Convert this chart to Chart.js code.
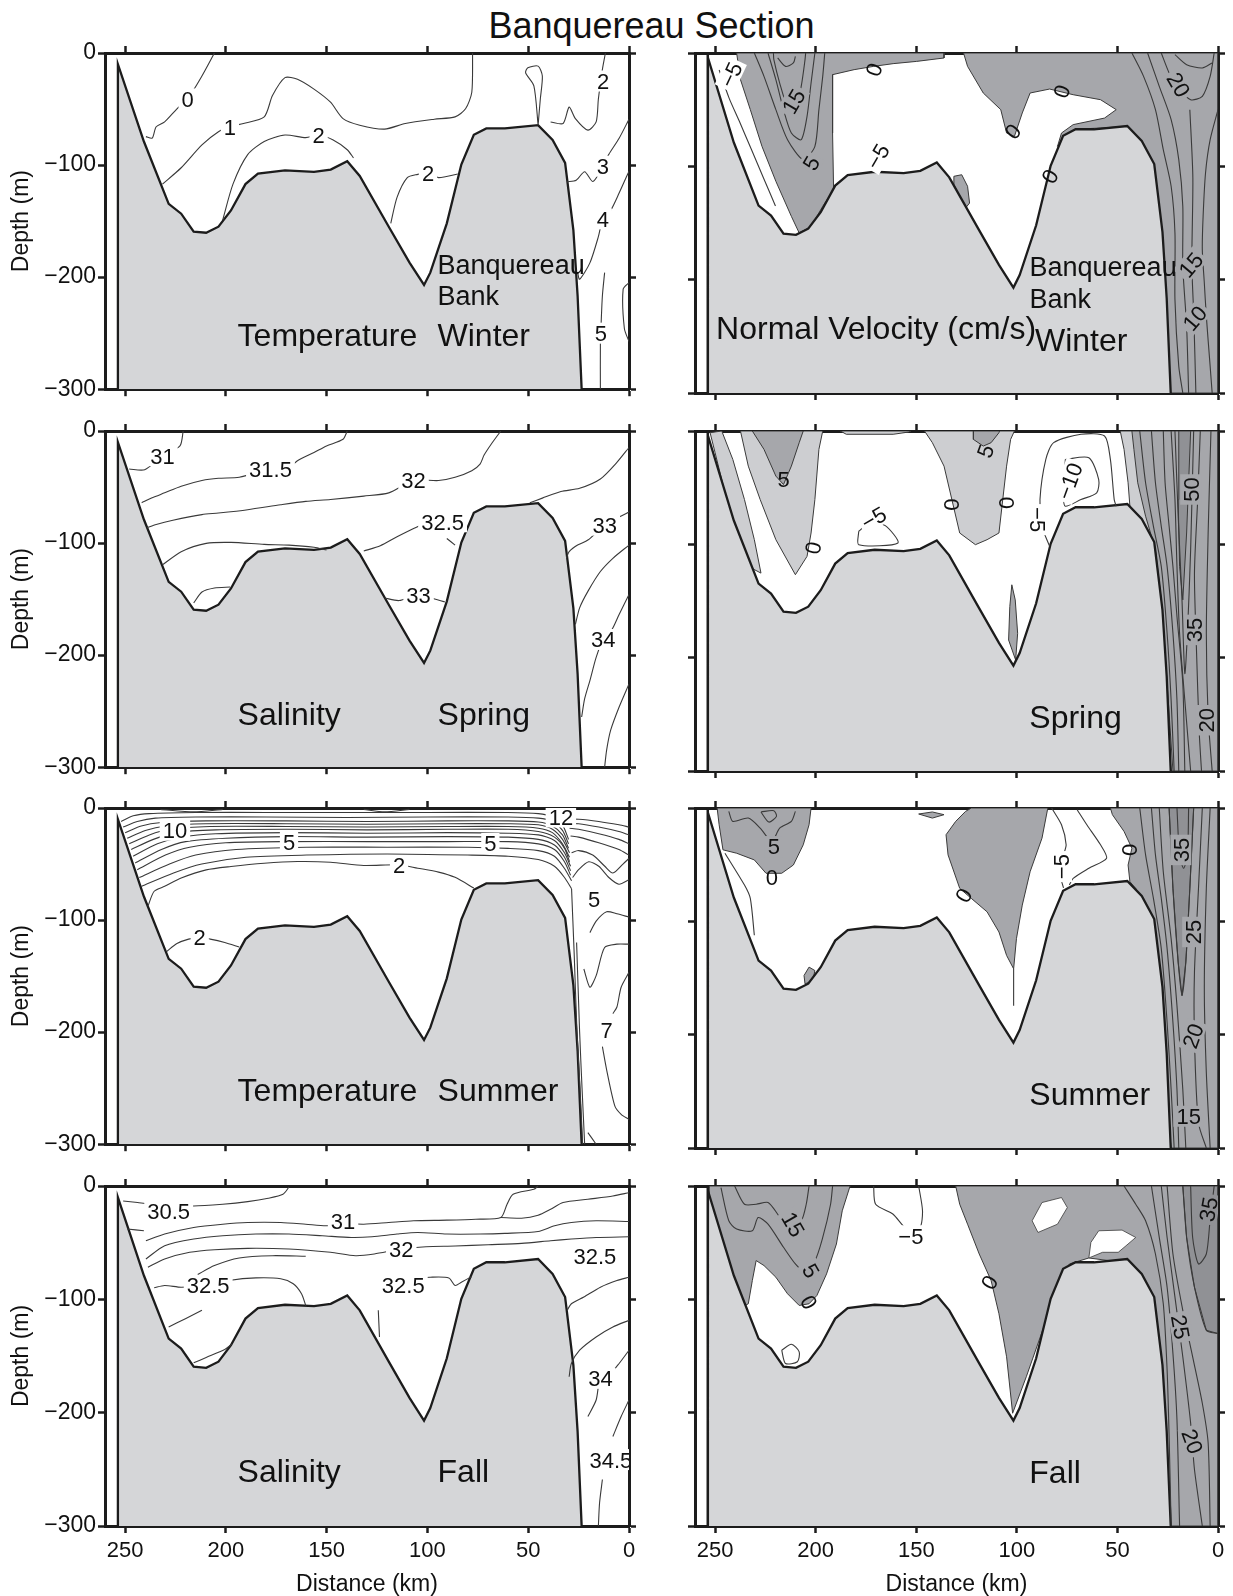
<!DOCTYPE html>
<html>
<head>
<meta charset="utf-8">
<script src="https://cdn.jsdelivr.net/npm/chart.js@4.4.1/dist/chart.umd.min.js"></script>
<style>
  html, body { margin: 0; padding: 0; background: #ffffff; }
  body { position: relative; width: 1233px; height: 1596px; overflow: hidden; font-family: "Liberation Sans", Arial, Helvetica, sans-serif; }
  canvas { position: absolute; }
  #mainTitle { position: absolute; left: 0; top: 8px; width: 1303px; text-align: center; font-size: 36px; line-height: 36px; color: #111; }
</style>
</head>
<body>
<div id="mainTitle">Banquereau Section</div>
<script>
// ---------------- tick labels ----------------
const xTickValues = [250, 200, 150, 100, 50, 0];
const yTickValues = [-300, -200, -100, 0];

// ---------------- bathymetry (distance km, depth m) ----------------
const bathyLeft = [[253.6,-300],[253.6,-10],[240.7,-79],[228.4,-134.6],[222.2,-143.4],[216,-159.5],[209.8,-160.4],[203.7,-155],[197.5,-140.5],[190.3,-117],[184.1,-107.7],[170.7,-104.8],[156.3,-106],[148,-104],[139.8,-96.6],[133.6,-109.7],[119.2,-155],[108.9,-187],[101.7,-207],[98.6,-196],[90.4,-152],[83.2,-99.5],[77,-73],[70.8,-67.3],[61.6,-67.3],[45.1,-64.4],[37.9,-77.6],[31.7,-98],[27.6,-158],[25.5,-216.6],[23.5,-300]];
const bathyRight = [[253.6,-300],[253.6,-4],[240.7,-79],[228.4,-134.6],[222.2,-143.4],[216,-159.5],[209.8,-160.4],[203.7,-155],[197.5,-140.5],[190.3,-117],[184.1,-107.7],[170.7,-104.8],[156.3,-106],[148,-104],[139.8,-96.6],[133.6,-109.7],[119.2,-155],[108.9,-187],[101.7,-207],[98.6,-196],[90.4,-152],[83.2,-99.5],[77,-73],[70.8,-67.3],[61.6,-67.3],[45.1,-64.4],[37.9,-77.6],[31.7,-98],[27.6,-158],[25.5,-216.6],[23.5,-300]];
const shelfLineRight = [[253.6,-300],[253.6,0]];

// ---------------- Temperature, winter ----------------
const twC0 = [[205.7,0],[211.9,-20.5],[219,-41],[224.3,-49.8],[230.4,-61.5],[234.6,-65.8],[236.6,-76],[239.7,-74.6]];
const twC1 = [[231.5,-117],[222.2,-102.4],[211.9,-82],[203.7,-70.2],[197.9,-65.8],[191.3,-62.9],[181,-57],[176.9,-38],[170.7,-22],[164.5,-23.4],[156.3,-32.2],[148.1,-43.9],[141.9,-58.5],[133.6,-64.4],[121.3,-67.9],[111,-62.9],[96.6,-59.1],[86.3,-57],[81.1,-49.8],[78,-35],[77.6,0]];
const twC2a = [[201.6,-149],[196.5,-117],[189.2,-90.7],[181,-79],[170.7,-73.2],[160.4,-75.5],[153.8,-73.2],[147,-77.5],[139.8,-86.3],[136.7,-93.6]];
const twC2b = [[118.2,-152],[115.1,-128.8],[110,-111.2],[104.8,-108.3],[99.7,-106.8],[94.5,-111.2],[85,-108]];
const twLoop = [[45.1,-64.4],[47.2,-29.3],[51.3,-17.6],[50.2,-13.2],[45.1,-11.7],[43,-20.5],[44,-41],[45.1,-64.4]];
const twC2c = [[38.9,-61.5],[32.7,-62.9],[29.7,-48.3],[26.6,-58.5],[20.4,-68.8],[16.3,-61.5],[15.2,-41],[13.2,-14.6],[11.7,0]];
const twC3 = [[30.8,-115],[26.2,-113.5],[22,-105.9],[17.9,-114.7],[13,-101],[10.1,-90.7],[4.9,-76.1],[0,-59.1]];
const twC4 = [[0,-105.4],[4.9,-125],[9.1,-140.5],[13,-148],[15.2,-163.9],[19.4,-187.3],[24.5,-201.9],[25.5,-196]];
const twCx = [[0,-204.9],[2.9,-210.7],[2.3,-245.8],[0,-257.5]];
const twC5 = [[12.1,-196],[13.2,-216.6],[13.8,-240],[14.2,-260.5],[14.2,-300]];
const twLabels = [["0",219,-41],["1",198,-66],["2",154,-73],["2",99.7,-107],["2",12.8,-25],["3",13,-101],["4",13,-148],["5",14,-250]];
const twTexts = [["Banquereau",95,-188.5,27],["Bank",95,-216,27],["Temperature",194.2,-251.5,32],["Winter",95,-251.5,32]];

// ---------------- Salinity, spring ----------------
const ss31 = [[221.2,0],[222.8,-13.3],[231.5,-22],[240.3,-34.5],[248,-33.9]];
const ss315 = [[139.8,0],[141.9,-7.4],[150.1,-13.3],[156.3,-19.2],[164.5,-26.5],[167.6,-31],[177.9,-34],[193.4,-41.3],[203.7,-42.2],[211.9,-44.2],[222.2,-49.3],[230.4,-55.2],[236.6,-59.6],[241.8,-64]];
const ss32 = [[63.6,0],[67.8,-10.3],[71.9,-21.5],[73.9,-29.5],[78,-35.4],[86.3,-41.3],[94.5,-44.2],[106.9,-44.2],[119.2,-55.2],[131.6,-58.1],[148.1,-61.1],[160.4,-62.8],[172.8,-65.8],[189.2,-70.2],[203.7,-73.2],[211.9,-74.6],[226.3,-79.6],[234.6,-83.4],[239.1,-86.4]];
const ssShelf = [[0,-14.7],[6,-28],[14.2,-42.8],[24.5,-51.1],[33.8,-54],[43,-59.9],[49.2,-64]];
const ss325a = [[231.5,-119.5],[222.2,-107.7],[209.8,-100.3],[197.5,-99.4],[181,-101.2],[168.7,-101.8],[156.3,-103.8],[150.1,-106.2]];
const ss325b = [[131.6,-107.1],[123.4,-102.4],[115.1,-94.4],[104,-84.5]];
const ss325c = [[90.4,-95.9],[86.3,-101.8]];
const ss33a = [[216,-153.4],[211.9,-143.7],[205.7,-140.1],[197.9,-139.2]];
const ss33b = [[121.3,-149],[114.1,-151.3],[104.4,-146],[95.5,-150.4],[91.4,-152.5]];
const ss33r = [[0,-72.3],[4.9,-76.7],[12,-84],[20.4,-97.3],[25.5,-101.8],[29.7,-107.7],[31.1,-113.6]];
const ssMid = [[0,-101.8],[8,-113.6],[14.2,-125.4],[20.4,-143.1],[24.5,-157.8],[26.6,-172.6]];
const ss34 = [[0,-146],[4.9,-163.7],[8.4,-177],[12.8,-185.8],[16.3,-202],[19.4,-222.7],[22,-238.9],[23.5,-255.2]];
const ssDeep = [[0,-225.7],[4.9,-246.3],[9.1,-267],[11.1,-284.7],[12.1,-300]];
const ssLabels = [["31",231.5,-22],["31.5",177.9,-34],["32",106.9,-44],["32.5",92.5,-81],["33",104.4,-146],["33",12,-84],["34",12.8,-186]];
const ssTexts = [["Salinity",194.2,-252,32],["Spring",95,-252,32]];

// ---------------- Temperature, summer ----------------
const tsTop1 = [[232.5,-1.2],[216,-3.5],[201.6,-1.2]];
const tsTop2 = [[131.6,-1.2],[121.3,-3.5],[108.9,-1.2]];
const tsL1 = [[252,-12],[246,-7],[238,-5],[215,-4],[180,-4],[140,-4],[100,-4],[60,-4],[45,-5],[38,-8],[33,-15],[30,-28]];
const tsL2 = [[251,-17],[244,-12],[235,-9],[215,-8],[180,-8],[140,-8.5],[100,-8],[60,-8],[45,-9],[38,-12],[33,-20],[30,-32]];
const tsL3 = [[250,-22],[242,-16],[232,-13],[210,-11.5],[170,-11.5],[130,-12],[90,-11.5],[60,-11.5],[45,-12.5],[38,-16],[33,-24],[30,-36]];
const tsL4 = [[249,-27],[240,-20],[230,-16],[210,-14],[170,-14],[130,-14.5],[90,-14],[60,-14],[45,-15],[38,-19],[33,-28],[29.5,-40]];
const tsL5 = [[248,-32],[238,-24],[228,-19],[208,-16.5],[170,-16.5],[130,-17],[90,-16.5],[60,-16.5],[45,-18],[38,-22],[33,-32],[29.5,-44]];
const tsL6 = [[247,-37],[236,-28],[225,-22],[205,-19.5],[170,-19],[130,-19.5],[90,-19],[60,-19],[45,-21],[37,-26],[32,-36],[29.5,-48]];
const tsL7 = [[246,-43],[234,-32],[222,-26],[205,-23],[170,-22],[130,-22.5],[90,-22],[60,-22.5],[45,-24],[37,-29],[32,-40],[29,-52]];
const tsL8 = [[245,-49],[232,-37],[220,-30],[200,-27],[170,-25.5],[130,-26],[90,-25.5],[60,-26],[45,-28],[37,-33],[32,-44],[29,-56]];
const tsL9 = [[244,-55],[230,-42],[218,-35],[200,-31],[170,-30],[130,-30],[90,-30],[60,-30],[45,-32],[37,-37],[32,-48],[29,-60]];
const tsL10 = [[243,-62],[228,-50],[215,-42],[195,-37],[160,-35],[120,-35],[80,-35],[60,-36],[45,-38],[37,-43],[32,-54],[28.5,-65]];
const tsL11 = [[242,-70],[226,-58],[212,-50],[190,-44],[160,-42],[120,-41],[80,-42],[60,-43],[45,-46],[37,-52],[32,-62],[28.5,-72]];
const ts2 = [[238.7,-87.6],[235.6,-74.3],[230.4,-69.9],[222.2,-62.5],[209.8,-55.2],[197.5,-52.2],[181,-49.3],[164.5,-47.8],[148.1,-48.4],[131.6,-51.3],[114.1,-50.7],[104.8,-53.7],[94.5,-57.2],[86.3,-61.9],[77,-71.4]];
const tsLens = [[229.4,-128],[224.3,-121],[218.5,-117],[213,-115.6],[207.8,-117],[200.6,-120],[193.4,-124]];
const tsRA = [[31,-10],[25,-10],[15,-12],[5,-15],[0,-17]];
const tsRB = [[30,-14],[25,-14],[15,-17],[5,-21],[0,-24]];
const tsRC = [[29.5,-18],[25,-19],[15,-23],[5,-28],[0,-32]];
const tsRD = [[29,-25],[25,-26],[15,-31],[5,-37],[0,-42]];
const tsRE = [[28.5,-40],[25,-38],[18,-42],[12,-52],[8,-58],[3,-50],[0,-45]];
const tsRF = [[28,-62],[25,-55],[20,-48],[15,-52],[10,-62],[5,-68],[0,-64]];
const tsR5 = [[19.4,-111.2],[16.3,-100.9],[11.1,-92.6],[6,-94.4],[0,-97.3]];
const tsR6 = [[22.4,-143.7],[19.4,-159.9],[16.3,-149.6],[12.1,-124.5],[6,-121.5],[0,-121.5]];
const tsR6b = [[0,-146.6],[3.9,-159.9],[6,-177.6],[8,-183.5]];
const tsR7 = [[13.2,-213],[11.1,-233.6],[7,-266],[3.9,-273.3],[0,-277.9]];
const tsRb = [[20.4,-289.7],[16.3,-300]];
const tsRS1 = [[28.5,-72],[27.2,-130],[25.8,-200],[24.3,-250],[23,-300]];
const tsRS2 = [[26,-120],[24.5,-200],[23.3,-250],[22,-300]];
const tsLabels = [["10",225.3,-19.8],["5",168.7,-30],["5",68.8,-31.6],["2",114.1,-51.3],["12",33.8,-8],["5",17.3,-81.7],["7",11.1,-198.2],["2",213,-115.6]];
const tsTexts = [["Temperature",194.2,-251,32],["Summer",95,-251,32]];

// ---------------- Salinity, fall ----------------
const sf305 = [[251,-13.2],[243.8,-14.6],[236,-16],[216,-17.6],[201.6,-16.1],[189.2,-13.8],[179,-10.8],[171.7,-7.3],[168.7,-0.9]];
const sfShort = [[249,-38],[240.7,-39.5]];
const sf31a = [[239.7,-48.3],[230.4,-42.4],[216,-36.6],[201.6,-33.7],[189.2,-32.2],[172.8,-32.2],[160.4,-33.7],[150.1,-35.1],[141.9,-33],[131.6,-33.7],[119.2,-32.2],[106.9,-30.7],[90.4,-30.1],[76,-29.3],[63.6,-27.8],[60.5,-16.1],[57.5,-7.3],[47.2,-2.9],[45.1,0]];
const sf31b = [[63.6,-27.8],[53.3,-28.4],[45.1,-25.8],[38.9,-20.5],[32.7,-14.6],[20.4,-11.7],[8,-8.8],[0,-5.9]];
const sf315 = [[239.7,-64.4],[230.4,-52.7],[216,-46.8],[201.6,-43.9],[185.1,-42.4],[168.7,-42.4],[152.2,-43.9],[137.8,-45.4],[127.5,-44.8],[115.1,-42.4],[104.8,-41],[90.4,-42.4],[73.9,-42.4],[61.6,-41.8],[45.1,-40.1],[36.9,-35.1],[28.6,-32.2],[16.3,-30.7],[0,-31.3]];
const sf32 = [[238.7,-71.7],[230.4,-64.4],[218,-58.5],[205.7,-56.2],[189.2,-55],[168.7,-55.6],[148.1,-58.5],[135.7,-61.5],[126.4,-60],[113,-55.6],[100.7,-53.6],[86.3,-53],[69.8,-51.8],[53.3,-50.6],[38.9,-48.3],[28.6,-46.8],[16.3,-45.4],[0,-44.8]];
const sf32x = [[214,-78.1],[205.7,-70.2],[193.4,-63.5],[176.9,-61.5],[160.4,-62]];
const sf325a = [[235.6,-89.8],[230.4,-87.8],[222.2,-89.3],[208.8,-87.8],[198.5,-83.4],[185.1,-81.1],[172.8,-81.9],[166.6,-86.3],[162.5,-95.1],[160.4,-105.4]];
const sfLow = [[228.4,-124.4],[220.1,-117.1],[211.9,-109.7]];
const sfTrough = [[216,-156],[209.8,-151.3],[200.6,-144.3],[197.1,-139.6]];
const sf325m = [[124.4,-109.7],[123.8,-133.2]];
const sf325n = [[108.9,-81.9],[98.6,-80.5],[89.4,-81.1],[86.3,-87.8],[83.2,-84.9],[78,-79.9]];
const sf325r = [[0,-80.5],[6,-83.4],[14.2,-89.3],[22.4,-98],[28.6,-103.9],[30.7,-109.7]];
const sf33 = [[0,-118.5],[8,-124.4],[16.3,-133.2],[24.5,-144.9],[28.6,-156.6],[29.7,-168.3]];
const sf34 = [[0,-144.9],[4.9,-156.6],[9,-165],[14.2,-169.7],[16.3,-188.8],[20.4,-203.4]];
const sf34b = [[0,-188.8],[3.9,-203.4],[8,-221]];
const sf345 = [[13.2,-259],[14.6,-279.5],[15.2,-300]];
const sfLabels = [["30.5",228.4,-21.9],["31",141.9,-30.7],["32",113,-55.6],["32.5",208.8,-87.8],["32.5",112,-87.8],["32.5",16.9,-61.5],["34",14.2,-169.7],["34.5",9,-241.4]];
const sfTexts = [["Salinity",194.2,-251,32],["Fall",95,-251,32]];

// ---------------- Normal velocity, winter ----------------
const vwRegA = [[239.3,0],[136.2,0],[136.2,-4.4],[149.8,-7.4],[161.5,-9.4],[171.2,-11.8],[180.9,-14.7],[191.6,-19.1],[191.6,-70.6],[191.1,-120.6],[196.5,-135.3],[202.3,-152.9],[208.2,-158.8],[212.1,-144.1],[219.8,-113.2],[226.7,-82.4],[232.5,-50],[237.4,-23.5]];
const vwRegB = [[126.5,0],[0,0],[0,-300],[24.3,-300],[26.3,-217.6],[28.2,-158.8],[32.1,-98.5],[37.9,-77.9],[44.7,-64.7],[58.4,-66.2],[69.1,-67.1],[75.9,-73.5],[79.8,-82.4],[77.8,-70.6],[72,-63.2],[56.4,-57.4],[50.6,-50],[58.4,-41.2],[72,-36.8],[83.7,-31.8],[93.4,-35.3],[97.3,-52.9],[101.2,-73.5],[105.1,-70.6],[108,-50],[116.7,-35.3],[124.5,-11.8]];
const vwBlob = [[131.3,-108.8],[127.4,-107.4],[124.5,-117.6],[123.5,-132.4],[125.5,-136.8],[128.4,-126.5],[131.3,-116.2]];
const vw5 = [[230.5,0],[225.7,-20.6],[219.8,-50],[214,-76.5],[206.2,-94.1],[200.4,-82.4],[198.4,-50],[196.5,-20.6],[195.5,0]];
const vw10 = [[223.7,0],[219.8,-23.5],[216,-50],[212.1,-70.6],[207.2,-76.5],[204.3,-55.9],[202.3,-26.5],[200.4,0]];
const vw15 = [[221,0],[220.8,-5.9],[217.9,-26.5],[214,-47.1],[210.1,-50],[207.2,-29.4],[205.3,-5.9],[205,0]];
const vw20 = [[218.9,-4.4],[215,-11.8],[211.1,-8.8],[210.1,-2.9]];
const vwM5 = [[248,-15],[243,-40],[238,-60],[232,-85],[226,-110],[220,-135]];
const vwJ2 = [[42.8,0],[37,-20.6],[31.1,-50],[27.2,-85.3],[23.3,-117.6],[21.4,-158.8],[21.4,-217.6],[19.5,-276.5],[17.5,-300]];
const vwJ3 = [[35,0],[29.2,-29.4],[23.3,-58.8],[19.5,-94.1],[17.5,-135.3],[17.5,-188.2],[15.6,-241.2],[14.6,-300]];
const vwJ4 = [[28.2,0],[24.3,-17.6],[20.4,-29.4],[13.6,-41.2],[7.8,-38.2],[3.9,-20.6],[1.9,0]];
const vwJ5 = [[21.4,-1.5],[15.6,-10.3],[7.8,-13.2],[2.9,-8.8]];
const vwJ6 = [[0,-50],[3.9,-76.5],[6.2,-105.9],[7.4,-144.1],[7.8,-173.5],[6.8,-202.9],[5.8,-232.4],[3.9,-276.5],[2.9,-300]];
const vwJ7 = [[14,-50],[12.5,-110],[13,-186],[12,-234],[11,-300]];
const vwLabels = [["\u22125",242.2,-19.1,-65,"#fff"],["15",211.1,-42.6,-60,"dark"],["5",202.3,-97,-60,"dark"],["0",171.2,-14.7,-70,null],["0",77.8,-33.8,-70,null],["0",102.1,-69,-50,null],["0",83.7,-108.8,-60,null],["\u22125",169.3,-91.2,-60,"#fff"],["20",19.5,-27.9,60,"dark"],["15",13.6,-186.8,-50,"dark"],["10",11.7,-233.8,-50,"dark"]];
const vwTexts = [["Normal Velocity (cm/s)",249.5,-242,32],["Winter",91,-253,32],["Banquereau",93.7,-188.5,27],["Bank",93.7,-216,27]];

// ---------------- Normal velocity, spring ----------------
const vsSlope = [[252.5,-1.5],[246.7,0],[241.2,-25.1],[235.4,-60.5],[230.5,-95.9],[227.2,-125.4],[233.5,-119.5],[239.3,-90],[245.1,-54.6],[250,-19.2]];
const vsLeft0 = [[237.4,0],[233.5,-31],[227.6,-60.5],[219.8,-95.9],[210.1,-126.8],[204.3,-110.6],[202.3,-90],[200.4,-60.5],[198.4,-16.2],[196.5,0]];
const vsLeft5 = [[231.5,0],[225.7,-16.2],[219.8,-39.8],[216,-47.2],[212.1,-31],[208.2,-10.3],[206.2,0]];
const vsTopThin = [[187.7,0],[184.8,-2.9],[161.5,-2.9],[153.7,-0.9],[152.7,0]];
const vsMid0 = [[145.9,0],[142,-10.3],[136.2,-31],[132.3,-60.5],[128.4,-90],[120.6,-100.3],[114.8,-95.9],[108.9,-90],[107,-60.5],[105.1,-31],[103.1,-7.4],[101.2,0]];
const vsMid5 = [[121.6,0],[121.6,-7.4],[116.7,-13.3],[112.8,-10.3],[108.9,-1.5],[108.6,0]];
const vsSliver = [[102.5,-135.7],[100.8,-149],[99.6,-178.5],[100.6,-202.1],[104.1,-184.4],[103.5,-154.9]];
const vsJetLight = [[48.6,0],[0,0],[0,-300],[23.3,-300],[26.3,-237.5],[29.2,-178.5],[32.1,-119.5],[34.6,-98.8],[38.9,-78.2],[43.8,-66.4],[44.7,-45.7],[46.7,-16.2]];
const vsJetDark = [[42.8,0],[0,0],[0,-300],[22.4,-300],[25.3,-222.7],[28.2,-149],[31.1,-104.7],[36,-75.2],[39.9,-45.7],[41.8,-16.2]];
const vsJetCore = [[19.5,0],[13.6,0],[15.6,-90],[17.5,-149],[19.1,-119.5],[19.8,-60.5]];
const vsS1 = [[38.9,0],[36,-45.7],[32.1,-84.1],[28.2,-119.5],[25.3,-178.5],[23.3,-237.5],[21.8,-300]];
const vsS2 = [[33.1,0],[31.1,-45.7],[28.2,-84.1],[25.3,-119.5],[22.4,-178.5],[20.4,-237.5],[19.5,-300]];
const vsS3 = [[27.2,0],[26.3,-45.7],[24.3,-84.1],[22.4,-119.5],[20.4,-163.7],[17.5,-222.7],[16.5,-300]];
const vsS4 = [[23.3,0],[21.4,-60.5],[20.4,-119.5],[19.1,-178.5],[16.5,-237.5],[13.6,-300]];
const vsS5 = [[21.4,0],[19.8,-75.2],[17.9,-149],[16.5,-213.9],[15.2,-178.5],[13.6,-104.7],[12.1,0]];
const vsS6 = [[8.8,0],[10.1,-60.5],[11.7,-125.4],[10.7,-193.2],[9.3,-267],[8.2,-300]];
const vsS7 = [[3.5,0],[4.9,-90],[5.8,-178.5],[4.9,-252.2],[2.9,-300]];
const vsLens = [[178.6,-88.5],[173.2,-81.1],[165.4,-83.5],[159.1,-98.8],[178.6,-100.3],[178.6,-88.5]];
const vsM5 = [[83.7,-101.8],[87.5,-84.1],[88.5,-60.5],[85.6,-25.1],[81.7,-10.3],[68.1,-2.9],[56.4,-4.4],[53.5,-25.1],[51.6,-60.5],[50.6,-66.4]];
const vsM10 = [[75.9,-25.1],[64.2,-23.6],[59.3,-42.8],[60.3,-54.6],[68.1,-60.5],[75.9,-66.4],[76.8,-57.5],[75.9,-25.1]];
const vsLabels = [["5",216,-42.8,0,null],["0",201.4,-103.2,-80,null],["\u22125",171.2,-76.7,-30,"#fff"],["0",132.3,-64.9,90,null],["0",105.1,-63.4,90,null],["5",115.8,-17.7,-70,null],["\u22125",89.5,-78.2,90,"#fff"],["\u221210",73.9,-44.2,-70,"#fff"],["50",13.6,-51.6,-90,"dark"],["35",11.7,-175.5,-90,"dark"],["20",5.8,-255.2,-90,"dark"]];
const vsTexts = [["Spring",93.8,-252,32]];

// ---------------- Normal velocity, summer ----------------
const vuLeft = [[249,0],[202.3,0],[203.3,-14.8],[206.2,-32.5],[211.1,-50.3],[216.9,-57.6],[224.7,-57.6],[230.5,-45.8],[239.3,-39.9],[246.1,-36.9],[248,-14.8]];
const vuBlob = [[205.8,-147.8],[203.3,-140.4],[200.4,-143.4],[201.4,-152.2],[205.3,-155.2]];
const vuMid = [[122.6,0],[84.6,0],[87.5,-26.6],[93.4,-56.2],[97.3,-85.7],[100.2,-115.3],[101.6,-141.9],[105.1,-130.1],[108.9,-109.4],[114.8,-91.6],[122.6,-79.8],[128.4,-70.9],[134.2,-41.4],[135.2,-23.6],[130.4,-11.8],[125.5,-3]];
const vuTopBlob = [[148.8,-5.3],[142,-3.5],[136.2,-5.9],[142,-8.9]];
const vuJet = [[53.5,0],[0,0],[0,-300],[23.3,-300],[26.3,-248.3],[29.2,-189.2],[32.1,-130.1],[36,-91.6],[40.9,-70.9],[43.8,-65],[44.7,-50.3],[42.8,-35.5],[46.7,-20.7],[52.5,-5.9]];
const vuJetCore = [[24.3,0],[12.1,0],[14,-70.9],[16,-136],[17.9,-165.5],[19.8,-136],[22.4,-70.9]];
const vu5 = [[243.2,-3],[241.2,-11.8],[233.5,-8.9],[227.6,-17.7],[221.8,-29.6],[217.9,-17.7],[212.1,-11.8],[210.1,-3]];
const vu5loop = [[227.2,-3.5],[223.3,-12.4],[219.5,-7.4],[220.8,-2.4],[227.2,-3.5]];
const vuSlope = [[245.1,-39.9],[235.4,-68],[232.5,-79.8],[230.5,-112.3]];
const vuVert = [[101.6,-141.9],[101.6,-174.4]];
const vuM5a = [[82.7,0],[77.8,-14.8],[75.5,-32.5],[76.8,-41.4]];
const vuM5b = [[78.2,-62.1],[76.8,-70.4]];
const vuLoop2 = [[70,-1.5],[65.2,-14.8],[58.4,-32.5],[55.4,-44.3],[64.2,-53.2],[72,-62.1],[73.9,-68]];
const vuT1 = [[38.9,0],[36,-41.4],[32.1,-79.8],[28.2,-124.1],[25.3,-189.2],[23.3,-248.3],[21.8,-300]];
const vuT2 = [[33.1,0],[31.1,-41.4],[28.2,-79.8],[25.3,-124.1],[22.4,-189.2],[20.4,-248.3],[19.5,-300]];
const vuT3 = [[29.2,0],[27.2,-56.2],[23.3,-115.3],[20.4,-174.4],[17.5,-248.3],[16,-300]];
const vuT4 = [[24.3,0],[22.4,-70.9],[19.8,-136],[17.9,-165.5],[16,-136],[14,-70.9],[12.1,0]];
const vuT4b = [[20.4,0],[19.1,-41.4],[17.1,-53.2],[15.2,-41.4],[14.6,0]];
const vuT5 = [[7.8,0],[9.7,-70.9],[11.7,-144.8],[11.7,-204],[9.7,-277.9],[5.8,-300]];
const vuT6 = [[3.9,0],[5.8,-70.9],[6.8,-159.6],[5.8,-233.5],[3.9,-300]];
const vuLabels = [["5",220.8,-34,0,"dark"],["0",221.8,-60.6,0,null],["\u22125",77.8,-51.7,-90,"#fff"],["0",43.8,-37,90,null],["0",126.5,-76.9,-60,null],["35",18.5,-37,-90,"dark"],["25",12.6,-109.4,-90,"dark"],["20",12.6,-201,-70,"dark"],["15",14.6,-272,0,"dark"]];
const vuTexts = [["Summer",93.8,-252,32]];

// ---------------- Normal velocity, fall ----------------
const vfLeft = [[252.9,0],[182.9,0],[186.8,-21.9],[189.7,-51.2],[194.6,-77.6],[199.4,-96.6],[203.3,-103.9],[208.2,-105.4],[214,-95.1],[219.8,-80.5],[225.7,-70.2],[229.6,-65.8],[231.5,-83.4],[233.5,-103.9],[239.3,-109.7],[252.9,-45.4]];
const vfRight = [[130.4,0],[0,0],[0,-300],[23.3,-300],[26.3,-250.2],[28.2,-191.7],[31.1,-133.2],[35,-103.9],[39.9,-80.5],[43.8,-67.3],[54.5,-65.8],[64.2,-63.5],[73.9,-68.8],[83.7,-109.7],[95.3,-168.3],[102.1,-200.5],[105.1,-150.7],[108.9,-112.7],[112.8,-83.4],[118.7,-60],[124.5,-33.7],[128.4,-16.1]];
const vfWhiteA = [[92.4,-30.7],[87.5,-14.6],[77.8,-10.2],[74.9,-19],[79.8,-33.7],[89.5,-41]];
const vfWhiteB = [[63.2,-49.8],[59.3,-39.5],[47.7,-38.9],[40.9,-45.4],[45.7,-52.7],[49.6,-58.5],[57.4,-58.5],[64.2,-63.5]];
const vfCore = [[17.5,0],[0,0],[0,-130.2],[5.8,-127.3],[11.7,-89.3],[15.6,-45.4]];
const vf5 = [[247.1,-1.5],[243.2,-30.7],[239.3,-38],[231.5,-39.5],[228.6,-27.8],[223.7,-33.7],[216,-54.1],[210.1,-68.8],[206.2,-74.6],[200.4,-65.8],[196.5,-45.4],[192.6,-16.1],[191.6,0]];
const vf15 = [[240.3,0],[235.4,-16.1],[229.6,-16.1],[223.7,-14.6],[218.9,-24.9],[214,-38],[207.2,-30.7],[204.7,-16.1],[203.3,0]];
const vfM5 = [[171.2,0],[170.2,-16.1],[161.5,-24.9],[154.7,-38],[148.2,-36.6],[146.9,-21.9],[148.8,0]];
const vfLens = [[216.9,-144.9],[212.1,-139.6],[208.2,-146.3],[209.1,-155.1],[215,-156.6],[216.9,-144.9]];
const vfF1 = [[46.7,0],[40.9,-16.1],[36,-30.7],[31.1,-60],[27.2,-103.9],[25.3,-162.4],[24.3,-221],[23.3,-300]];
const vfF2 = [[33.1,0],[29.2,-45.4],[25.3,-89.3],[22.4,-147.8],[20.4,-206.3],[19.1,-300]];
const vfF3 = [[28.2,0],[25.3,-45.4],[21.4,-98],[17.5,-150.7],[13.6,-209.2],[11.7,-250.2],[7.8,-300]];
const vfF4 = [[25.3,0],[22.4,-60],[17.5,-109.7],[12.6,-150.7],[7.8,-191.7],[4.9,-226.8],[3.9,-300]];
const vfF5 = [[17.5,0],[15.6,-45.4],[11.7,-89.3],[5.8,-127.3],[0,-130.2]];
const vfF6 = [[13.6,0],[12.6,-45.4],[9.7,-68.8],[5.8,-60],[3.9,-29.3],[1.9,0]];
const vfLabels = [["15",211.1,-33.7,60,"dark"],["5",202.3,-74.6,60,"dark"],["0",203.3,-102.4,60,null],["\u22125",152.7,-43.9,0,"#fff"],["0",113.8,-84.9,-60,null],["25",18.5,-124.4,80,"dark"],["20",12.6,-225.3,70,"dark"],["35",4.9,-20.5,-80,"darker"]];
const vfTexts = [["Fall",93.8,-252,32]];

// ---------------- layout / style ----------------
const FONT = '"Liberation Sans", Arial, Helvetica, sans-serif';
const ROW_TOP = [53, 431, 808, 1186];
const PANEL_H = 340;
const COL = { bathy: '#d5d6d8', light: '#cdced1', dark: '#a6a7ab', darker: '#909195', white: '#ffffff', line: '#3a3a3a', frame: '#1c1c1c', text: '#111111' };
const LABEL_SIZE = 22;
Chart.defaults.font.family = FONT;

function toPts(a) { return a.map(p => ({ x: p[0], y: p[1] })); }

function makeTextPlugin(cfg) {
  return {
    id: 'panelText',
    afterDatasetsDraw(chart) {
      const ctx = chart.ctx, xs = chart.scales.x, ys = chart.scales.y, a = chart.chartArea;
      ctx.save();
      ctx.beginPath();
      ctx.rect(a.left, a.top, a.right - a.left, a.bottom - a.top);
      ctx.clip();
      (cfg.labels || []).forEach(l => {
        const t = l[0], px = xs.getPixelForValue(l[1]), py = ys.getPixelForValue(l[2]);
        const rot = l[3] || 0;
        let bg = cfg.boxed ? COL.white : l[4];
        if (bg === 'dark') bg = COL.dark;
        if (bg === 'darker') bg = COL.darker;
        ctx.save();
        ctx.translate(px, py);
        ctx.rotate(rot * Math.PI / 180);
        ctx.font = LABEL_SIZE + 'px ' + FONT;
        const w = ctx.measureText(t).width;
        if (bg) { ctx.fillStyle = bg; ctx.fillRect(-w / 2 - 3, -10.5, w + 6, 21); }
        ctx.fillStyle = COL.text;
        ctx.textAlign = 'center';
        ctx.textBaseline = 'alphabetic';
        ctx.fillText(t, 0, 0.36 * LABEL_SIZE);
        ctx.restore();
      });
      (cfg.texts || []).forEach(s => {
        const px = xs.getPixelForValue(s[1]), py = ys.getPixelForValue(s[2]);
        ctx.font = s[3] + 'px ' + FONT;
        ctx.fillStyle = COL.text;
        ctx.textAlign = 'left';
        ctx.textBaseline = 'alphabetic';
        ctx.fillText(s[0], px, py + 0.36 * s[3]);
      });
      ctx.restore();
    }
  };
}

function buildPanel(p) {
  const L = p.col === 0;
  const left = L ? 0 : 660, width = L ? 650 : 573;
  const topH = 20, bottomH = p.row === 3 ? 70 : 12;
  const height = topH + PANEL_H + bottomH;
  const canvas = document.createElement('canvas');
  canvas.width = width; canvas.height = height;
  canvas.style.left = left + 'px'; canvas.style.top = (ROW_TOP[p.row] - topH) + 'px';
  canvas.style.width = width + 'px'; canvas.style.height = height + 'px';
  document.body.appendChild(canvas);

  const datasets = [];
  (p.regions || []).forEach((r, i) => {
    datasets.push({
      data: toPts(r[0].concat([r[0][0]])), fill: 'shape', backgroundColor: COL[r[1]],
      borderColor: COL.line, borderWidth: r[1] === 'white' ? 0.8 : 1, pointRadius: 0, tension: 0, order: 100 - i
    });
  });
  datasets.push({ data: toPts(p.bathy), fill: 'start', backgroundColor: COL.bathy, borderColor: COL.frame, borderWidth: 2.3, pointRadius: 0, tension: 0, order: 20 });
  (p.lines || []).forEach(l => {
    datasets.push({ data: toPts(l), fill: false, borderColor: COL.line, borderWidth: 1.1, pointRadius: 0, tension: 0.25, order: 10 });
  });
  (p.heavy || []).forEach(l => {
    datasets.push({ data: toPts(l), fill: false, borderColor: COL.frame, borderWidth: 2.3, pointRadius: 0, tension: 0, order: 5 });
  });

  const tickGrid = { drawOnChartArea: false, drawTicks: true, tickLength: 7, tickWidth: 2.5, tickColor: COL.frame };
  const border = { display: true, width: 3, color: COL.frame };
  const xTicks = a => { a.ticks = xTickValues.map(v => ({ value: v })); };
  const yTicks = a => { a.ticks = yTickValues.map(v => ({ value: v })); };

  new Chart(canvas, {
    type: 'line',
    data: { datasets },
    options: {
      responsive: false, animation: false, events: [],
      layout: { padding: 0 },
      plugins: { legend: { display: false }, tooltip: { enabled: false } },
      scales: {
        x: {
          type: 'linear', position: 'bottom', min: 0, max: 260, reverse: true, z: 1,
          grid: tickGrid, border, afterBuildTicks: xTicks,
          ticks: { display: p.row === 3, autoSkip: false, maxRotation: 0, color: COL.text, font: { family: FONT, size: 22 }, padding: 5 },
          title: { display: p.row === 3, text: 'Distance (km)', color: COL.text, font: { family: FONT, size: 23, lineHeight: 1 }, padding: { top: 0, bottom: 0 } },
          afterFit: a => { a.height = bottomH; }
        },
        x2: {
          type: 'linear', position: 'top', min: 0, max: 260, reverse: true, z: 1,
          grid: tickGrid, border, afterBuildTicks: xTicks, ticks: { display: false },
          afterFit: a => { a.height = topH; }
        },
        y: {
          type: 'linear', position: 'left', min: -300, max: 0, z: 1,
          grid: tickGrid, border, afterBuildTicks: yTicks,
          ticks: { display: L, color: COL.text, font: { family: FONT, size: 23 }, padding: 2,
                   callback: v => (v === 0 ? '0' : '\u2212' + Math.abs(v)) },
          title: { display: L, text: 'Depth (m)', color: COL.text, font: { family: FONT, size: 23, lineHeight: 1.2 }, padding: { top: 8, bottom: 0 } },
          afterFit: a => { a.width = L ? 105 : 35; }
        },
        y2: {
          type: 'linear', position: 'right', min: -300, max: 0, z: 1,
          grid: tickGrid, border, afterBuildTicks: yTicks, ticks: { display: false },
          afterFit: a => { a.width = L ? 21 : 15; }
        }
      }
    },
    plugins: [makeTextPlugin({ labels: p.labels, texts: p.texts, boxed: L })]
  });
}

const panels = [
  { col: 0, row: 0, bathy: bathyLeft, lines: [twC0, twC1, twC2a, twC2b, twLoop, twC2c, twC3, twC4, twCx, twC5], labels: twLabels, texts: twTexts },
  { col: 0, row: 1, bathy: bathyLeft, lines: [ss31, ss315, ss32, ssShelf, ss325a, ss325b, ss325c, ss33a, ss33b, ss33r, ssMid, ss34, ssDeep], labels: ssLabels, texts: ssTexts },
  { col: 0, row: 2, bathy: bathyLeft, lines: [tsTop1, tsTop2, tsL1, tsL2, tsL3, tsL4, tsL5, tsL6, tsL7, tsL8, tsL9, tsL10, tsL11, ts2, tsLens, tsRA, tsRB, tsRC, tsRD, tsRE, tsRF, tsR5, tsR6, tsR6b, tsR7, tsRb, tsRS1, tsRS2], labels: tsLabels, texts: tsTexts },
  { col: 0, row: 3, bathy: bathyLeft, lines: [sf305, sfShort, sf31a, sf31b, sf315, sf32, sf32x, sf325a, sfLow, sfTrough, sf325m, sf325n, sf325r, sf33, sf34, sf34b, sf345], labels: sfLabels, texts: sfTexts },
  { col: 1, row: 0, bathy: bathyRight, heavy: [shelfLineRight],
    regions: [[vwRegA, 'dark'], [vwRegB, 'dark'], [vwBlob, 'dark']],
    lines: [vw5, vw10, vw15, vw20, vwM5, vwJ2, vwJ3, vwJ4, vwJ5, vwJ6, vwJ7], labels: vwLabels, texts: vwTexts },
  { col: 1, row: 1, bathy: bathyRight, heavy: [shelfLineRight],
    regions: [[vsSlope, 'light'], [vsLeft0, 'light'], [vsLeft5, 'dark'], [vsTopThin, 'light'], [vsMid0, 'light'], [vsMid5, 'dark'], [vsSliver, 'dark'], [vsJetLight, 'light'], [vsJetDark, 'dark'], [vsJetCore, 'darker']],
    lines: [vsS1, vsS2, vsS3, vsS4, vsS5, vsS6, vsS7, vsLens, vsM5, vsM10], labels: vsLabels, texts: vsTexts },
  { col: 1, row: 2, bathy: bathyRight, heavy: [shelfLineRight],
    regions: [[vuLeft, 'dark'], [vuBlob, 'dark'], [vuMid, 'dark'], [vuTopBlob, 'dark'], [vuJet, 'dark'], [vuJetCore, 'darker']],
    lines: [vu5, vu5loop, vuSlope, vuVert, vuM5a, vuM5b, vuLoop2, vuT1, vuT2, vuT3, vuT4, vuT4b, vuT5, vuT6], labels: vuLabels, texts: vuTexts },
  { col: 1, row: 3, bathy: bathyRight, heavy: [shelfLineRight],
    regions: [[vfLeft, 'dark'], [vfRight, 'dark'], [vfWhiteA, 'white'], [vfWhiteB, 'white'], [vfCore, 'darker']],
    lines: [vf5, vf15, vfM5, vfLens, vfF1, vfF2, vfF3, vfF4, vfF5, vfF6], labels: vfLabels, texts: vfTexts }
];

panels.forEach(buildPanel);
</script>
</body>
</html>
